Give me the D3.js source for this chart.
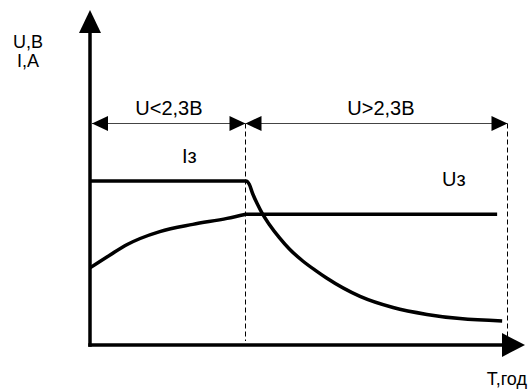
<!DOCTYPE html>
<html>
<head>
<meta charset="utf-8">
<script src="https://cdn.jsdelivr.net/npm/d3@7"></script>
<style>
  html, body { margin: 0; padding: 0; background: #fff; }
  svg { display: block; font-family: "Liberation Sans", Arial, sans-serif; }
  .curve { fill: none; stroke: #000; stroke-width: 3.5; stroke-linejoin: round; }
  .axis-line { stroke: #000; stroke-width: 3.5; }
  .dim { stroke: #444; stroke-width: 1; }
  .guide { stroke: #000; stroke-width: 1; stroke-dasharray: 5,3; }
</style>
</head>
<body>
<svg id="chart"></svg>
<script>
(function () {
    const width = 528;
    const height = 390;

    // time points (arbitrary units) and values
    const boundaryT = 3.73;   // U = 2,3 B switch point
    const endT = 10;

    const uTime = [0, 0.48, 0.89, 1.2, 1.67, 2.46, 3.28, 3.73, 9.74];
    const uValue = [2.57, 3.0, 3.35, 3.55, 3.78, 4.02, 4.22, 4.36, 4.36];

    const iTime = [0, 3.73, 3.81, 3.89, 4.01, 4.13, 4.29, 4.53, 4.77, 5.09, 5.41, 5.65, 6.46, 7.25, 8.06, 8.85, 9.86];
    const iValue = [5.47, 5.47, 5.36, 5.05, 4.68, 4.36, 4.02, 3.58, 3.2, 2.8, 2.47, 2.24, 1.62, 1.25, 1.02, 0.88, 0.8];

    const zoneLabels = ["U<2,3B", "U>2,3B"];
    const seriesLabels = ["Iз", "Uз"];
    const axisLabelsY = ["U,B", "I,A"];
    const axisLabelX = "T,год";

    const svg = d3.select("#chart")
        .attr("width", width)
        .attr("height", height);

    const x = d3.scaleLinear().domain([0, 10]).range([90, 508]);
    const y = d3.scaleLinear().domain([0, 10]).range([345, 45]);

    const line = d3.line()
        .x(d => x(d[0]))
        .y(d => y(d[1]))
        .curve(d3.curveMonotoneX);

    // dashed guide lines at the zone borders
    const dimY = 123.5;
    const guideX = t => Math.round(x(t)) - 0.5;
    [boundaryT, endT].forEach(t => {
        svg.append("line")
            .attr("class", "guide")
            .attr("x1", guideX(t)).attr("x2", guideX(t))
            .attr("y1", dimY).attr("y2", y(0) - 4);
    });

    // dimension lines with arrowheads
    const arrowLen = 16, arrowHalf = 7.5;
    function dimArrow(tipX, dir) {
        // dir = -1 points left, +1 points right
        svg.append("path")
            .attr("d", `M${tipX},${dimY} L${tipX - dir * arrowLen},${dimY - arrowHalf} L${tipX - dir * arrowLen},${dimY + arrowHalf} Z`)
            .attr("fill", "#000");
    }
    const spans = [[0, boundaryT], [boundaryT, endT]];
    spans.forEach((s, i) => {
        const x0 = i === 0 ? x(s[0]) + 2 : guideX(s[0]);
        const x1 = guideX(s[1]);
        svg.append("line")
            .attr("class", "dim")
            .attr("x1", x0).attr("x2", x1)
            .attr("y1", dimY).attr("y2", dimY);
        dimArrow(x0, -1);
        dimArrow(x1, 1);
        svg.append("text")
            .attr("x", (x(s[0]) + x(s[1])) / 2 + (i === 1 ? 4 : 1))
            .attr("y", 115)
            .attr("text-anchor", "middle")
            .attr("font-size", 20)
            .text(zoneLabels[i]);
    });

    // curves
    svg.append("path")
        .attr("class", "curve")
        .attr("d", line(d3.zip(iTime, iValue)));

    // U: charging part is smooth, then it holds flat (sharp knee at the boundary)
    const uPts = d3.zip(uTime, uValue);
    const uRise = uPts.filter(d => d[0] <= boundaryT);
    const uHold = uPts.filter(d => d[0] >= boundaryT);
    const uPath = line(uRise) + d3.line().x(d => x(d[0])).y(d => y(d[1]))(uHold).replace(/^M/, "L");
    svg.append("path")
        .attr("class", "curve")
        .attr("d", uPath);

    // series labels
    svg.append("text")
        .attr("x", 182).attr("y", 163)
        .attr("font-size", 20)
        .text(seriesLabels[0]);
    svg.append("text")
        .attr("x", 442).attr("y", 186)
        .attr("font-size", 20)
        .text(seriesLabels[1]);

    // axes with arrowheads
    const ox = x(0), oy = y(0);
    const yTip = 10, xTip = 525;
    svg.append("line")
        .attr("class", "axis-line")
        .attr("x1", ox).attr("x2", ox)
        .attr("y1", oy + 1.75).attr("y2", yTip + 20);
    svg.append("line")
        .attr("class", "axis-line")
        .attr("x1", ox - 1.75).attr("x2", xTip - 20)
        .attr("y1", oy).attr("y2", oy);
    svg.append("path")
        .attr("d", `M${ox},${yTip} L${ox - 11},${yTip + 23} L${ox + 11},${yTip + 23} Z`)
        .attr("fill", "#000");
    svg.append("path")
        .attr("d", `M${xTip},${oy} L${xTip - 23},${oy - 12} L${xTip - 23},${oy + 12} Z`)
        .attr("fill", "#000");

    // axis titles
    svg.selectAll(".ylab")
        .data(axisLabelsY)
        .enter()
        .append("text")
        .attr("class", "ylab")
        .attr("x", 28)
        .attr("y", (d, i) => 48 + i * 19)
        .attr("text-anchor", "middle")
        .attr("font-size", 18)
        .text(d => d);

    svg.append("text")
        .attr("x", 527).attr("y", 385)
        .attr("text-anchor", "end")
        .attr("font-size", 18)
        .text(axisLabelX);
})();
</script>
</body>
</html>
